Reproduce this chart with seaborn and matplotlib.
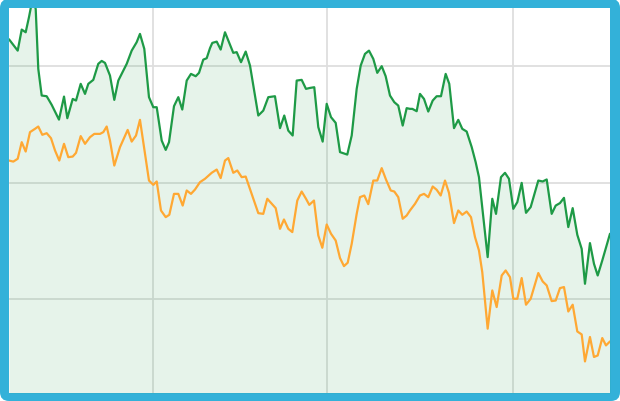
import matplotlib
matplotlib.use("Agg")
import matplotlib.pyplot as plt
from matplotlib.patches import FancyBboxPatch
import pandas as pd
import seaborn as sns

# --- data (days since start, value) ---
green_day = [0.0, 1.45, 2.12, 2.78, 3.33, 3.92, 4.45, 4.88, 5.45, 6.28, 7.12, 8.33, 9.17, 9.72,
             10.62, 11.17, 11.95, 12.67, 13.22, 14.05, 14.88, 15.45, 16.0, 16.83, 17.55, 18.22,
             19.62, 20.45, 21.28, 21.83, 22.55, 23.33, 24.05, 24.62, 25.45, 26.12, 26.67, 27.5,
             28.22, 28.88, 29.62, 30.33, 31.12, 31.67, 32.38, 32.95, 33.5, 33.88, 34.62, 35.28,
             36.0, 36.67, 37.38, 37.95, 38.67, 39.45, 40.17, 41.55, 42.38, 43.22, 44.33, 45.17,
             45.88, 46.55, 47.28, 47.95, 48.78, 49.5, 50.17, 50.88, 51.55, 52.28, 52.95, 53.67,
             54.45, 55.17, 56.38, 57.12, 57.95, 58.62, 59.33, 60.0, 60.72, 61.38, 62.12, 62.78,
             63.5, 64.22, 64.88, 65.62, 66.28, 66.83, 67.22, 67.95, 68.5, 69.17, 69.88, 70.62,
             71.28, 72.0, 72.78, 73.38, 74.17, 74.88, 75.55, 76.28, 77.12, 77.78, 78.33, 79.78,
             80.55, 81.17, 82.0, 82.67, 83.33, 84.05, 84.72, 85.45, 86.17, 86.95, 88.22, 88.95,
             89.62, 90.45, 91.12, 91.83, 92.5, 93.22, 93.95, 94.72, 95.45, 96.0, 96.83, 97.5,
             98.12, 98.88, 100.17]
green_val = [32.25, 31.28, 33.08, 32.85, 34.14, 35.7, 34.85, 29.72, 27.44, 27.38, 26.64, 25.38,
             27.35, 25.5, 27.15, 27.01, 28.44, 27.58, 28.44, 28.78, 30.15, 30.4, 30.23, 29.15,
             27.07, 28.72, 30.15, 31.28, 32.0, 32.71, 31.43, 27.3, 26.44, 26.44, 23.59, 22.79,
             23.45, 26.53, 27.3, 26.24, 28.72, 29.29, 29.09, 29.38, 30.51, 30.63, 31.49, 31.94,
             32.05, 31.37, 32.85, 32.0, 31.09, 31.15, 30.29, 31.2, 30.0, 25.73, 26.15, 27.3,
             27.38, 24.65, 25.73, 24.44, 24.02, 28.72, 28.78, 28.01, 28.09, 28.15, 24.74, 23.5,
             26.73, 25.59, 25.1, 22.6, 22.39, 24.02, 28.01, 30.0, 31.0, 31.28, 30.57, 29.38,
             29.95, 29.09, 27.44, 26.87, 26.58, 24.87, 26.36, 26.3, 26.3, 26.1, 27.58, 27.15,
             26.07, 27.01, 27.38, 27.38, 29.29, 28.44, 24.65, 25.36, 24.59, 24.36, 23.03, 21.74,
             20.46, 13.62, 18.61, 17.32, 20.46, 20.83, 20.32, 17.75, 18.32, 19.97, 17.41, 17.9,
             20.17, 20.09, 20.26, 17.32, 18.03, 18.24, 18.69, 16.19, 17.81, 15.53, 14.33, 11.34,
             14.82, 13.05, 12.05, 13.33, 15.62]

orange_day = [0.0, 0.72, 1.45, 2.12, 2.78, 3.5, 4.33, 4.88, 5.55, 6.28, 7.0, 7.67, 8.38, 9.17,
              9.88, 10.62, 11.17, 11.95, 12.67, 13.5, 14.22, 15.17, 15.72, 16.28, 16.83, 17.55,
              18.5, 19.78, 20.45, 21.17, 21.83, 23.33, 24.05, 24.62, 25.33, 26.12, 26.72, 27.5,
              28.22, 28.95, 29.62, 30.33, 31.0, 31.83, 32.67, 33.78, 34.62, 35.28, 36.0, 36.55,
              37.38, 38.05, 38.78, 39.45, 40.45, 41.55, 42.38, 43.05, 44.45, 45.17, 45.83, 46.55,
              47.22, 48.05, 48.78, 49.5, 50.05, 50.83, 51.55, 52.22, 52.95, 53.67, 54.45, 55.17,
              55.83, 56.45, 57.12, 57.95, 58.5, 59.22, 59.88, 60.72, 61.38, 62.12, 62.83, 63.62,
              64.22, 64.88, 65.62, 66.28, 66.83, 67.67, 68.5, 69.17, 69.88, 70.62, 71.28, 71.95,
              72.67, 73.33, 74.17, 74.88, 75.55, 76.28, 77.0, 77.67, 78.33, 78.88, 79.78, 80.55,
              81.28, 82.12, 82.78, 83.5, 84.05, 84.72, 85.45, 86.17, 86.95, 88.22, 88.95, 89.62,
              90.45, 91.12, 91.83, 92.5, 93.22, 93.95, 94.72, 95.45, 96.0, 96.83, 97.5, 98.12,
              98.88, 99.5, 100.17]
orange_val = [21.88, 21.79, 22.03, 23.45, 22.65, 24.31, 24.59, 24.79, 24.08, 24.22, 23.79, 22.74,
              21.88, 23.31, 22.17, 22.22, 22.54, 23.97, 23.31, 23.88, 24.16, 24.16, 24.31, 24.79,
              23.59, 21.45, 23.03, 24.5, 23.5, 24.02, 25.36, 20.17, 19.8, 20.09, 17.61, 17.04,
              17.24, 19.03, 19.03, 18.03, 19.32, 19.03, 19.4, 20.03, 20.32, 20.83, 21.11, 20.38,
              21.88, 22.09, 20.83, 21.03, 20.46, 20.51, 19.03, 17.38, 17.32, 18.61, 17.81, 16.04,
              16.84, 16.04, 15.76, 18.46, 19.23, 18.61, 18.09, 18.46, 15.47, 14.42, 16.41, 15.62,
              15.04, 13.54, 12.85, 13.14, 14.76, 17.32, 18.75, 18.89, 18.15, 20.17, 20.17, 21.23,
              20.26, 19.32, 19.23, 18.75, 16.9, 17.18, 17.61, 18.18, 18.89, 19.03, 18.75, 19.66,
              19.38, 18.89, 20.17, 19.12, 16.53, 17.61, 17.24, 17.52, 17.04, 15.33, 14.19, 12.34,
              7.5, 10.77, 9.35, 12.05, 12.48, 11.91, 10.06, 10.06, 11.83, 9.55, 10.06, 12.26,
              11.54, 11.2, 9.86, 9.91, 10.97, 11.06, 8.97, 9.55, 7.26, 7.01, 4.7, 6.79, 5.08,
              5.21, 6.7, 6.07, 6.41]

month_starts = [24, 53, 84]
y_grid = [10, 20, 30]

GREEN = '#1e9a46'
ORANGE = '#ffa833'
FRAME = '#33b1d9'

df_g = pd.DataFrame({'day': green_day, 'value': green_val})
df_o = pd.DataFrame({'day': orange_day, 'value': orange_val})

sns.set_theme(style="white")

fig = plt.figure(figsize=(6.2, 4.02), dpi=100, facecolor='white')

# rounded blue frame behind the plot area
frame = FancyBboxPatch((0, 0), 6.2, 4.02, boxstyle="round,pad=0,rounding_size=0.09",
                       transform=fig.dpi_scale_trans, facecolor=FRAME, edgecolor='none',
                       zorder=-10)
fig.add_artist(frame)

ax = fig.add_axes([9 / 620, 8 / 402, 601 / 620, 384.7 / 402])
ax.set_facecolor('white')

y_bottom, y_top = 2.0, 34.9
ax.fill_between(df_g['day'], df_g['value'], y_bottom, color=GREEN, alpha=0.11, lw=0, zorder=1)
sns.lineplot(data=df_g, x='day', y='value', ax=ax, color=GREEN, lw=1.6, zorder=3)
sns.lineplot(data=df_o, x='day', y='value', ax=ax, color=ORANGE, lw=1.6, zorder=3)

ax.set_xlim(0, 100.17)
ax.set_ylim(y_bottom, y_top)
ax.set_xticks(month_starts)
ax.set_yticks(y_grid)
ax.set_xticklabels([])
ax.set_yticklabels([])
ax.tick_params(length=0)
ax.set_xlabel('')
ax.set_ylabel('')
ax.set_axisbelow(True)
ax.grid(True, color='#dedede', lw=1.3)
for s in ax.spines.values():
    s.set_visible(False)

fig.savefig('out.png', dpi=100)
